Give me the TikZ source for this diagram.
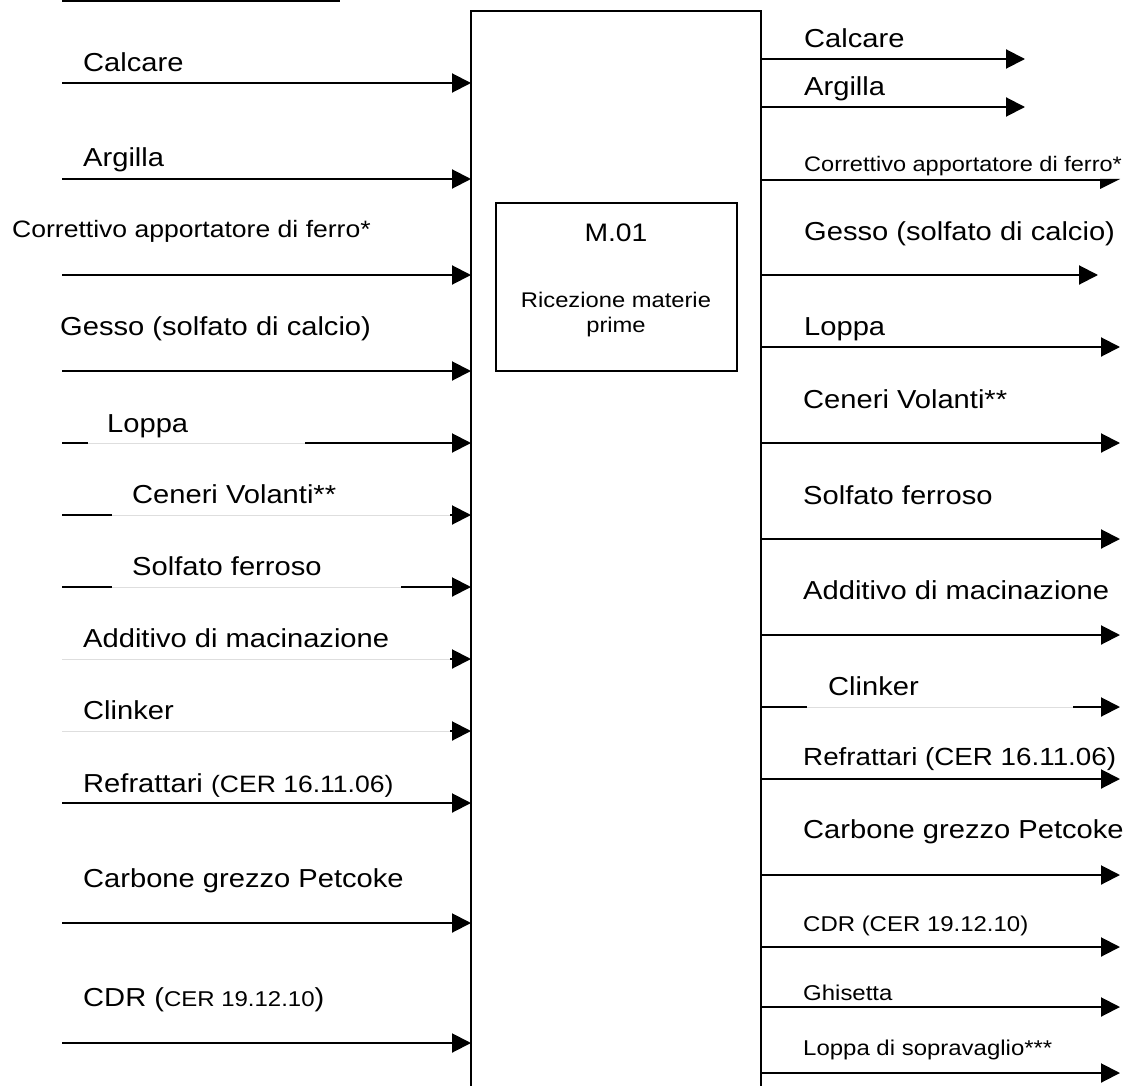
\documentclass[tikz,border=0pt]{standalone}
\usepackage{fontspec}
\setmainfont{Liberation Sans}[FakeStretch=1.12]
\usetikzlibrary{arrows.meta}
\newcommand\szMain{\fontsize{26}{30}\selectfont}
\newcommand\szSmall{\fontsize{21.4}{25}\selectfont}
\newcommand\szMid{\fontsize{23.7}{27}\selectfont}
\newcommand\szRcor{\fontsize{21}{25}\selectfont}
\newcommand\szRref{\fontsize{24.8}{28}\selectfont}
\newcommand\szM{\fontsize{25.3}{29}\selectfont}
\newcommand\szRic{\fontsize{21.2}{25}\selectfont}
\begin{document}
\begin{tikzpicture}[x=1pt,y=-1pt,
  lw/.style={line width=2pt},
  arr/.style={line width=2pt,-{Triangle[length=19pt,width=19pt]}},
  faint/.style={line width=1pt,draw=black!13},
  midline/.style={line width=1.3pt},
  lbl/.style={anchor=base west,inner sep=0pt,font=\szMain},
  box/.style={draw,line width=2pt,outer sep=0pt,inner sep=0pt,anchor=north west},
  ]
\useasboundingbox (0,0) rectangle (1129,1086);

% main block and inner box
\node[box,minimum width=290pt,minimum height=1110pt] (main) at (471,11) {};
\node[box,minimum width=241pt,minimum height=168pt] (m01) at (496,203) {};
\node[anchor=base,inner sep=0pt,font=\szM] (m01a) at (616,241) {M.01};
\node[anchor=base,inner sep=0pt,font=\szRic] (m01b) at (616,307) {Ricezione materie};
\node[anchor=base,inner sep=0pt,font=\szRic] (m01c) at (616,332) {prime};

% top line
\coordinate (tA) at (62,1.3);
\coordinate (tB) at (340,1.3);
\draw[lw] (tA) -- (tB);

% ---------- left inputs ----------
\node[lbl] (lt1) at (83,72) {Calcare};
\coordinate (li1) at (62,83);
\draw[arr] (li1) -- (li1 -| main.west);

\node[lbl] (lt2) at (83,167) {Argilla};
\coordinate (li2) at (62,179);
\draw[arr] (li2) -- (li2 -| main.west);

\node[lbl,font=\szMid] (lt3) at (12,237) {Correttivo apportatore di ferro*};
\coordinate (li3) at (62,275);
\draw[arr] (li3) -- (li3 -| main.west);

\node[lbl] (lt4) at (60,335) {Gesso (solfato di calcio)};
\coordinate (li4) at (62,371);
\draw[arr] (li4) -- (li4 -| main.west);

\node[lbl] (lt5) at (107,432) {Loppa};
\coordinate (li5) at (62,443);
\draw[lw] (li5) -- (88,443);
\draw[faint] (88,443) -- (305,443);
\coordinate (li5b) at (305,443);
\draw[arr] (li5b) -- (li5b -| main.west);

\node[lbl] (lt6) at (132,503) {Ceneri Volanti**};
\coordinate (li6) at (62,515);
\draw[lw] (li6) -- (112,515);
\draw[faint] (112,515) -- (450,515);
\coordinate (li6b) at (450,515);
\draw[arr] (li6b) -- (li6b -| main.west);

\node[lbl] (lt7) at (132,575) {Solfato ferroso};
\coordinate (li7) at (62,587);
\draw[lw] (li7) -- (112,587);
\draw[faint] (112,587) -- (401,587);
\coordinate (li7b) at (401,587);
\draw[arr] (li7b) -- (li7b -| main.west);

\node[lbl] (lt8) at (83,647) {Additivo di macinazione};
\coordinate (li8) at (62,659);
\draw[faint] (li8) -- (450,659);
\coordinate (li8b) at (450,659);
\draw[arr] (li8b) -- (li8b -| main.west);

\node[lbl] (lt9) at (83,719) {Clinker};
\coordinate (li9) at (62,731);
\draw[faint] (li9) -- (450,731);
\coordinate (li9b) at (450,731);
\draw[arr] (li9b) -- (li9b -| main.west);

\node[lbl] (lt10) at (83,792) {Refrattari {\szMid(CER 16.11.06)}};
\coordinate (li10) at (62,803);
\draw[arr] (li10) -- (li10 -| main.west);

\node[lbl] (lt11) at (83,887) {Carbone grezzo Petcoke};
\coordinate (li11) at (62,923);
\draw[arr] (li11) -- (li11 -| main.west);

\node[lbl] (lt12) at (83,1006) {CDR ({\szSmall CER 19.12.10})};
\coordinate (li12) at (62,1043);
\draw[arr] (li12) -- (li12 -| main.west);

% ---------- right outputs ----------
\node[lbl] (rt1) at (804,48) {Calcare};
\coordinate (ro1) at (1025,59);
\draw[arr] (ro1 -| main.east) -- (ro1);

\node[lbl] (rt2) at (804,96) {Argilla};
\coordinate (ro2) at (1025,107);
\draw[arr] (ro2 -| main.east) -- (ro2);

\node[lbl,font=\szRcor] (rt3) at (804,172) {Correttivo apportatore di ferro*};
\coordinate (ro3) at (784,180);
\draw[lw] (ro3 -| main.east) -- (ro3);
\draw[midline] (ro3) -- (1100,180);
\fill (1100,179) -- (1120,179) -- (1100,189) -- cycle;

\node[lbl] (rt4) at (804,240) {Gesso (solfato di calcio)};
\coordinate (ro4) at (1098,275);
\draw[arr] (ro4 -| main.east) -- (ro4);

\node[lbl] (rt5) at (804,335) {Loppa};
\coordinate (ro5) at (1120,347);
\draw[lw] (ro5 -| main.east) -- (783,347);
\draw[midline] (783,347) -- (1050,347);
\draw[arr] (1050,347) -- (ro5);

\node[lbl] (rt6) at (803,408) {Ceneri Volanti**};
\coordinate (ro6) at (1120,443);
\draw[arr] (ro6 -| main.east) -- (ro6);

\node[lbl] (rt7) at (803,504) {Solfato ferroso};
\coordinate (ro7) at (1120,539);
\draw[arr] (ro7 -| main.east) -- (ro7);

\node[lbl] (rt8) at (803,599) {Additivo di macinazione};
\coordinate (ro8) at (1120,635);
\draw[arr] (ro8 -| main.east) -- (ro8);

\node[lbl] (rt9) at (828,695) {Clinker};
\coordinate (ro9) at (1120,707);
\draw[lw] (ro9 -| main.east) -- (807,707);
\draw[faint] (807,707) -- (1073,707);
\draw[arr] (1073,707) -- (ro9);

\node[lbl,font=\szRref] (rt10) at (803,765) {Refrattari (CER 16.11.06)};
\coordinate (ro10) at (1120,779);
\draw[arr] (ro10 -| main.east) -- (ro10);

\node[lbl] (rt11) at (803,838) {Carbone grezzo Petcoke};
\coordinate (ro11) at (1120,875);
\draw[arr] (ro11 -| main.east) -- (ro11);

\node[lbl,font=\szSmall] (rt12) at (803,931) {CDR (CER 19.12.10)};
\coordinate (ro12) at (1120,947);
\draw[arr] (ro12 -| main.east) -- (ro12);

\node[lbl,font=\szSmall] (rt13) at (803,1000) {Ghisetta};
\coordinate (ro13) at (1120,1007);
\draw[arr] (ro13 -| main.east) -- (ro13);

\node[lbl,font=\szSmall] (rt14) at (803,1055) {Loppa di sopravaglio***};
\coordinate (ro14) at (1120,1073);
\draw[arr] (ro14 -| main.east) -- (ro14);
\end{tikzpicture}
\end{document}
